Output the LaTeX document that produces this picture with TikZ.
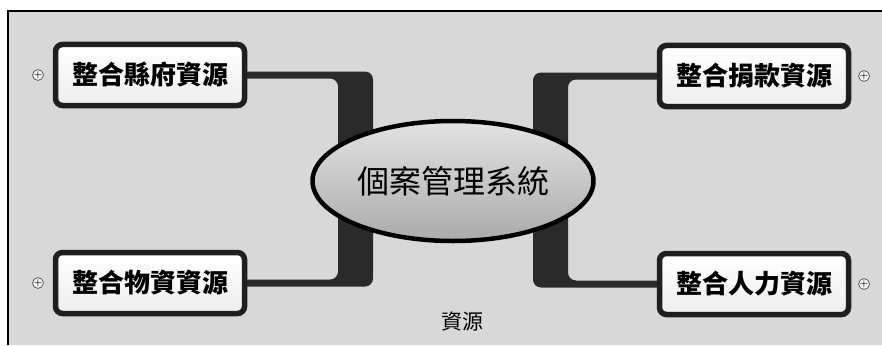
\documentclass[tikz,border=0pt]{standalone}
\usepackage{fontspec}
\usetikzlibrary{positioning,shapes.geometric}
\newfontfamily\cjk{Noto Sans CJK TC}
\definecolor{bggray}{RGB}{216,216,216}
\definecolor{bardark}{RGB}{42,42,42}
\pgfdeclarelayer{bg}
\pgfdeclarelayer{links}
\pgfsetlayers{bg,links,main}

\begin{document}
\begin{tikzpicture}[x=1pt,y=-1pt,
    resbox/.style={draw=black!88, line width=5.5pt, rounded corners=7pt, top color=white, bottom color=gray!14,
        minimum width=189pt, minimum height=61pt, inner sep=0pt, font=\cjk\bfseries\fontsize{26}{26}\selectfont},
    expander/.style={circle, draw=black!70, line width=0.7pt, fill=gray!8, minimum size=10pt, inner sep=0pt,
        font=\bfseries\fontsize{9}{9}\selectfont},
    branch/.style={fill=bardark, rounded corners=8pt}]
    \useasboundingbox (0,0) rectangle (882,345);

    % Frame and background
    \begin{pgfonlayer}{bg}
        \fill[white] (0,0) rectangle (882,345);
        \fill[bggray] (8,11) rectangle (882,345);
        \draw[line width=1.5pt] (8,345) -- (8,11) -- (882,11);
    \end{pgfonlayer}

    % Central topic
    \node[ellipse, draw=black, line width=4.5pt, minimum width=278pt, minimum height=120pt,
        top color=gray!22, bottom color=gray!66, font=\cjk\fontsize{32}{32}\selectfont] (core) at (453,181) {個案管理系統};

    % Resource boxes
    \foreach \name/\pos/\label in {county/{150,75}/整合縣府資源, goods/{150,283}/整合物資資源,
            donation/{754,76}/整合捐款資源, manpower/{754,284}/整合人力資源} {
        \node[resbox] (\name) at (\pos) {\label};
    }

    % Expand markers
    \node[expander, left=9pt of county] (countyplus) {+};
    \node[expander, left=9pt of goods] (goodsplus) {+};
    \node[expander, right=7pt of donation] (donationplus) {+};
    \node[expander, right=7pt of manpower] (manpowerplus) {+};

    % Branches
    \begin{pgfonlayer}{links}
        \fill[branch] ([xshift=-10pt,yshift=3.5pt]county.east) -| ([xshift=-80pt]core.center)
            -- ([xshift=-115pt]core.center) |- ([xshift=-10pt,yshift=-3.5pt]county.east) -- cycle;
        \fill[branch] ([xshift=-10pt,yshift=-3.5pt]goods.east) -| ([xshift=-80pt]core.center)
            -- ([xshift=-115pt]core.center) |- ([xshift=-10pt,yshift=3.5pt]goods.east) -- cycle;
        \fill[branch] ([xshift=10pt,yshift=3.5pt]donation.west) -| ([xshift=80pt]core.center)
            -- ([xshift=115pt]core.center) |- ([xshift=10pt,yshift=-3.5pt]donation.west) -- cycle;
        \fill[branch] ([xshift=10pt,yshift=-3.5pt]manpower.west) -| ([xshift=80pt]core.center)
            -- ([xshift=115pt]core.center) |- ([xshift=10pt,yshift=3.5pt]manpower.west) -- cycle;
    \end{pgfonlayer}

    % Caption
    \node[font=\cjk\fontsize{21}{21}\selectfont] (caption) at (462,321) {資源};
\end{tikzpicture}
\end{document}
